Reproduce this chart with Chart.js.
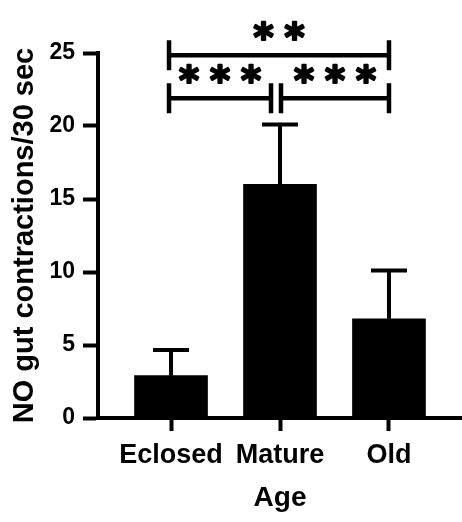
<!DOCTYPE html>
<html>
<head>
<meta charset="utf-8">
<script src="https://cdn.jsdelivr.net/npm/chart.js@4"></script>
<style>
  html, body { margin: 0; padding: 0; background: #fff; }
  #wrap { width: 462px; height: 522px; }
</style>
</head>
<body>
<div id="wrap"><canvas id="chart"></canvas></div>
<script>
// Data
const categories = ["Eclosed", "Mature", "Old"];
const means = [2.9, 16.0, 6.8];
const errUp = [1.75, 4.1, 3.3];
const yTicks = [0, 5, 10, 15, 20, 25];
const comparisons = [
  { from: 0, to: 2, label: "**" },
  { from: 0, to: 1, label: "***" },
  { from: 1, to: 2, label: "***" },
];

const FONT = '"Liberation Sans", Arial, Helvetica, sans-serif';
const STAR_FONT = '"DejaVu Sans", sans-serif';

/**
 * Error bars (upper only, like GraphPad "mean + SEM")
 */
const errorBarPlugin = {
  id: "errorBars",
  afterDatasetsDraw(chart) {
    const { ctx, scales } = chart;
    ctx.save();
    ctx.strokeStyle = "#000";
    ctx.lineWidth = 4;
    means.forEach((m, i) => {
      const x = scales.x.getPixelForValue(i + 1);
      const y0 = scales.y.getPixelForValue(m);
      const y1 = scales.y.getPixelForValue(m + errUp[i]);
      ctx.beginPath();
      ctx.moveTo(x, y0);
      ctx.lineTo(x, y1);
      ctx.moveTo(x - 18, y1);
      ctx.lineTo(x + 18, y1);
      ctx.stroke();
    });
    ctx.restore();
  },
};

/**
 * Significance brackets with asterisks
 */
const bracketPlugin = {
  id: "brackets",
  afterDraw(chart) {
    const { ctx, scales } = chart;
    ctx.save();
    ctx.strokeStyle = "#000";
    ctx.fillStyle = "#000";

    // size the asterisk so its glyph is ~18px tall (stroke adds the rest)
    ctx.font = "bold 100px " + STAR_FONT;
    const m = ctx.measureText("*");
    const gh = m.actualBoundingBoxAscent + m.actualBoundingBoxDescent;
    const size = (100 * 18) / gh;
    ctx.font = "bold " + size + "px " + STAR_FONT;
    const mm = ctx.measureText("*");
    const shift = (mm.actualBoundingBoxAscent - mm.actualBoundingBoxDescent) / 2;
    ctx.textAlign = "center";
    ctx.textBaseline = "alphabetic";
    ctx.lineJoin = "round";

    comparisons.forEach((c) => {
      const span = c.to - c.from;
      const y = scales.y.getPixelForValue(21.9 + (span - 1) * 2.95);
      let x0 = scales.x.getPixelForValue(c.from + 1) - 2;
      let x1 = scales.x.getPixelForValue(c.to + 1);
      if (span === 1 && c.to === 1) x1 -= 9;
      if (span === 1 && c.from === 1) x0 += 3;

      ctx.lineWidth = 4.5;
      ctx.beginPath();
      ctx.moveTo(x0, y);
      ctx.lineTo(x1, y);
      ctx.moveTo(x0, y - 15);
      ctx.lineTo(x0, y + 15);
      ctx.moveTo(x1, y - 15);
      ctx.lineTo(x1, y + 15);
      ctx.stroke();

      const n = c.label.length;
      const mid = (x0 + x1) / 2;
      const ty = y - 25;
      ctx.lineWidth = 2.2;
      for (let k = 0; k < n; k++) {
        const tx = mid + (k - (n - 1) / 2) * 31;
        ctx.fillText("*", tx, ty + shift);
        ctx.strokeText("*", tx, ty + shift);
      }
    });
    ctx.restore();
  },
};

const ctx = document.getElementById("chart").getContext("2d");
new Chart(ctx, {
  type: "bar",
  data: {
    datasets: [
      {
        data: means.map((v, i) => ({ x: i + 1, y: v })),
        backgroundColor: "#000",
        borderWidth: 0,
        barThickness: 73,
      },
    ],
  },
  options: {
    responsive: true,
    maintainAspectRatio: false,
    animation: false,
    devicePixelRatio: 1,
    layout: { padding: { top: 53, left: 0, right: 0, bottom: 0 } },
    plugins: {
      legend: { display: false },
      tooltip: { enabled: false },
    },
    scales: {
      x: {
        type: "linear",
        offset: false,
        min: 0.33,
        max: 3.67,
        afterBuildTicks(scale) {
          scale.ticks = categories.map((c, i) => ({ value: i + 1 }));
        },
        afterFit(scale) {
          scale.height = 104;
        },
        grid: {
          display: true,
          offset: false,
          drawOnChartArea: false,
          drawTicks: true,
          tickLength: 13,
          tickWidth: 4,
          tickColor: "#000",
        },
        border: { display: true, color: "#000", width: 4 },
        ticks: {
          autoSkip: false,
          maxRotation: 0,
          padding: 8,
          color: "#000",
          font: { family: FONT, size: 27, weight: "bold" },
          callback: (v) => categories[v - 1] || "",
        },
        title: {
          display: true,
          text: "Age",
          color: "#000",
          padding: { top: 0, bottom: 7 },
          font: { family: FONT, size: 28, weight: "bold" },
        },
      },
      y: {
        min: 0,
        max: 25,
        afterBuildTicks(scale) {
          scale.ticks = yTicks.map((v) => ({ value: v }));
        },
        afterFit(scale) {
          scale.width = 98;
        },
        grid: {
          display: true,
          drawOnChartArea: false,
          drawTicks: true,
          tickLength: 15,
          tickWidth: 4,
          tickColor: "#000",
        },
        border: { display: true, color: "#000", width: 4 },
        ticks: {
          padding: 8,
          color: "#000",
          font: { family: FONT, size: 23, weight: "bold" },
        },
        title: {
          display: true,
          text: "NO gut contractions/30 sec",
          color: "#000",
          padding: { top: 8, bottom: 0 },
          font: { family: FONT, size: 29, weight: "bold" },
        },
      },
    },
  },
  plugins: [errorBarPlugin, bracketPlugin],
});
</script>
</body>
</html>
